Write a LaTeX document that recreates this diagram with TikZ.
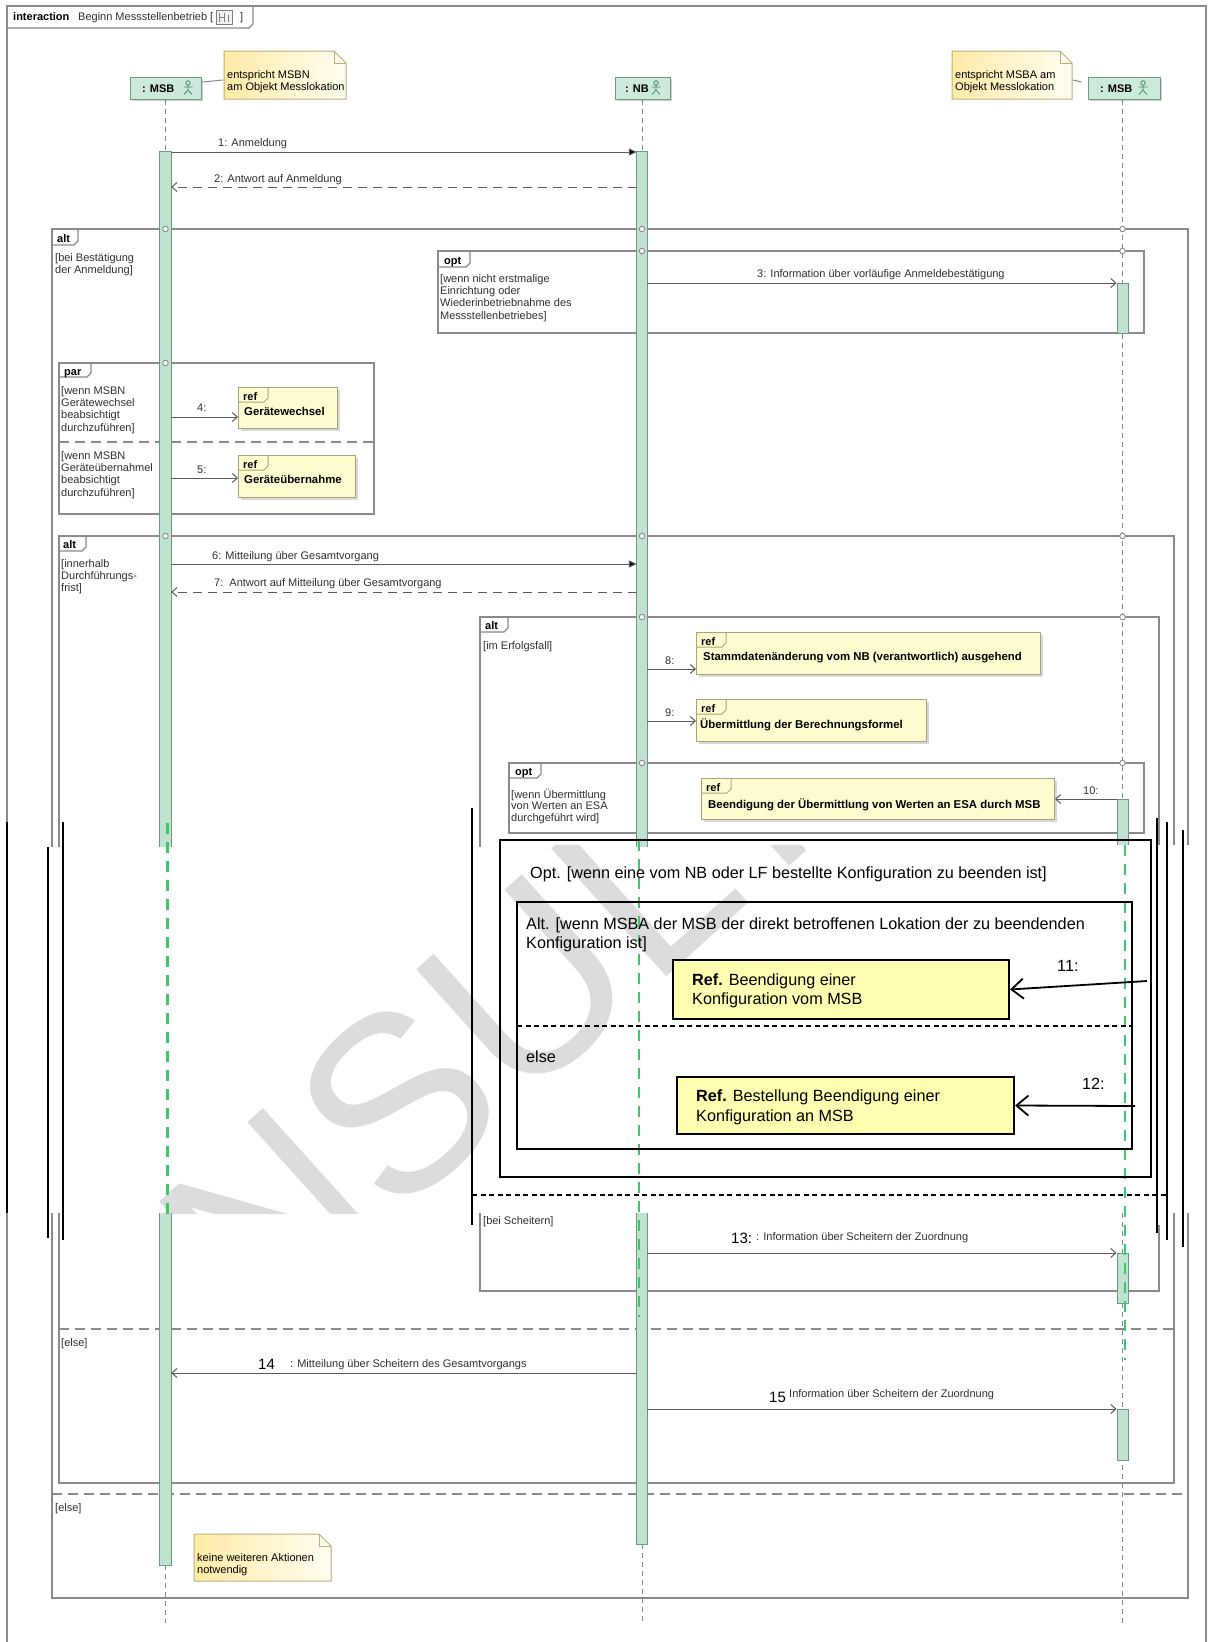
\documentclass[tikz,border=0pt]{standalone}
\usepackage{fontspec}
\setmainfont{Liberation Sans}
\usetikzlibrary{arrows.meta,shadows,calc}
\definecolor{framegray}{HTML}{8A8A8A}
\definecolor{lifefill}{HTML}{CDE9D9}
\definecolor{lifedraw}{HTML}{6C9C82}
\definecolor{actfill}{HTML}{BFE3CF}
\definecolor{actdraw}{HTML}{6A9880}
\definecolor{lifedashc}{HTML}{6F9482}
\definecolor{notefillA}{HTML}{FFEBA6}
\definecolor{notefillB}{HTML}{FFFDF2}
\definecolor{notedraw}{HTML}{BBAE7A}
\definecolor{reffill}{HTML}{FFFDCF}
\definecolor{refdraw}{HTML}{A8A37A}
\definecolor{ovfill}{HTML}{FFFDB0}
\definecolor{greendash}{HTML}{3CC86A}
\definecolor{wmgray}{HTML}{DCDCDC}
\definecolor{msggray}{HTML}{5A5A5A}
\definecolor{txtgray}{HTML}{303030}
\definecolor{actorgreen}{HTML}{3F8F63}
\newcommand\umlf{\fontsize{11}{12.3}\selectfont}
\newcommand\umlb{\fontsize{11.4}{13}\selectfont\bfseries}
\newcommand\ovf{\fontsize{16.2}{19.2}\selectfont}
\newcommand\utab[4]{\draw[frame] (#1,#2+#4) -- (#1+#3-4,#2+#4) -- (#1+#3,#2+#4-4) -- (#1+#3,#2);}
\newcommand\rtab[2]{\draw[draw=refdraw,line width=1pt] (#1,#2+15) -- (#1+26,#2+15) -- (#1+30,#2+11) -- (#1+30,#2);}
\newcommand\umlactor[2]{%
  \draw[actorgreen,line width=0.8pt] (#1,#2-5) circle (2.2pt)
    (#1,#2-2.8) -- (#1,#2+2) (#1-4.5,#2-1) -- (#1+4.5,#2-1)
    (#1-4,#2+6.5) -- (#1,#2+2) -- (#1+4,#2+6.5);}
\begin{document}
\begin{tikzpicture}[x=1pt,y=-1pt,
  frame/.style={draw=framegray,line width=1.1pt},
  sepline/.style={draw=framegray,line width=1.1pt,dash pattern=on 10pt off 6pt},
  lbl/.style={inner sep=0,anchor=base west,font=\umlf,text=txtgray},
  guard/.style={inner sep=0,anchor=north west,align=left,font=\umlf,text=txtgray},
  tablbl/.style={inner sep=0,anchor=base west,font=\umlf\bfseries,text=black},
  lifebox/.style={draw=lifedraw,fill=lifefill,line width=1pt,minimum width=71pt,minimum height=22pt,inner sep=0,drop shadow={shadow xshift=1.5pt,shadow yshift=-1.5pt,opacity=0.35}},
  act/.style={fill=actfill,draw=actdraw,line width=0.9pt,inner sep=0,minimum width=11pt,anchor=north},
  actcut/.style={fill=actfill,draw=none,inner sep=0,minimum width=11pt,anchor=north},
  actside/.style={draw=actdraw,line width=0.9pt},
  lifedash/.style={draw=lifedashc,line width=0.9pt,dash pattern=on 5pt off 4pt},
  gdash/.style={draw=greendash,line width=2.6pt,dash pattern=on 11pt off 8pt},
  msg/.style={draw=msggray,line width=1pt,-{Straight Barb[length=5pt,width=9pt]}},
  sync/.style={draw=msggray,line width=1pt,-{Triangle[length=8pt,width=7pt,fill=black]}},
  reply/.style={msg,dash pattern=on 9pt off 6pt},
  refbox/.style={draw=refdraw,fill=reffill,line width=1pt,inner sep=0,anchor=north west,drop shadow={shadow xshift=2pt,shadow yshift=-2pt,opacity=0.3}},
  reftxt/.style={inner sep=0,anchor=base west,font=\umlb},
  dot/.style={circle,draw=framegray,fill=white,line width=0.9pt,inner sep=0,minimum size=5.5pt},
  blk/.style={draw=black,line width=2.2pt},
  ovbox/.style={draw=black,line width=2pt},
  ovsep/.style={draw=black,line width=1.3pt,dash pattern=on 5pt off 3.5pt},
  ovref/.style={draw=black,fill=ovfill,line width=2pt,inner sep=0,anchor=north west},
  ovtxt/.style={inner sep=0,anchor=base west,font=\ovf,text=black},
  ovmsg/.style={draw=black,line width=1.8pt,-{Straight Barb[length=12pt,width=20pt,line width=1.8pt]}},
  notepath/.style={draw=notedraw,line width=1pt,left color=notefillA,right color=notefillB},
]
\useasboundingbox[fill=white] (0,0) rectangle (1208,1642);

% watermark inside the pasted band
\begin{scope}
\clip (0,845) rectangle (1208,1213);
\node[rotate=42,anchor=base west,inner sep=0,text=wmgray,font=\fontsize{250}{250}\selectfont] (wm) at (-9,1585) {KONSULTATIONSFASSUNG};
\end{scope}

% outer interaction frame
\draw[frame] (7,1650) -- (7,6) -- (1206,6) -- (1206,1650);
\draw[frame] (7,28) -- (249,28) -- (253,24) -- (253,6);
\node[tablbl] (hdr1) at (13,20) {interaction};
\node[lbl] (hdr2) at (78,20) {Beginn Messstellenbetrieb [};
\node[draw=gray,fill=gray!12,minimum width=16pt,minimum height=14pt,inner sep=0] (hicon) at (224,17.5) {};
\draw[gray,line width=0.8pt] (219,13) -- (219,22) (219,17.5) -- (224,17.5) (224,13) -- (224,22) (228,15) -- (228,22);
\node[lbl] (hdr3) at (240,20) {]};

% lifeline headers
\node[lifebox] (hA) at (165.5,88) {};
\node[inner sep=0,anchor=base west,font=\umlf\bfseries] (tA) at (142,92) {: MSB};
\umlactor{188}{88}
\node[lifebox,minimum width=55pt] (hN) at (642.5,88) {};
\node[inner sep=0,anchor=base west,font=\umlf\bfseries] (tN) at (625,92) {: NB};
\umlactor{656}{88}
\node[lifebox,minimum width=72pt] (hM) at (1124,88) {};
\node[inner sep=0,anchor=base west,font=\umlf\bfseries] (tM) at (1100,92) {: MSB};
\umlactor{1143}{88}

% notes
\path[notepath] (224,51) -- (334,51) -- (346,63) -- (346,99) -- (224,99) -- cycle;
\draw[notedraw,line width=1pt] (334,51) -- (334,63) -- (346,63);
\node[guard,text=black] (n1) at (227,70.5) {entspricht MSBN\\am Objekt Messlokation};
\coordinate (n1c) at (223,80);
\draw[framegray,line width=1pt] (hA.east) ++(1,-6) -- (n1c);
\path[notepath] (952,51) -- (1060,51) -- (1072,63) -- (1072,99) -- (952,99) -- cycle;
\draw[notedraw,line width=1pt] (1060,51) -- (1060,63) -- (1072,63);
\node[guard,text=black] (n2) at (955,70.5) {entspricht MSBA am\\Objekt Messlokation};
\coordinate (n2c) at (1073,80);
\draw[framegray,line width=1pt] (n2c) -- ($(hM.west)+(-6,-6)$);
\path[notepath] (194,1534) -- (319,1534) -- (331,1546) -- (331,1581) -- (194,1581) -- cycle;
\draw[notedraw,line width=1pt] (319,1534) -- (319,1546) -- (331,1546);
\node[guard,text=black] (n3) at (197,1553.5) {keine weiteren Aktionen\\notwendig};

% ---------- UML frames ----------
% big alt
\draw[frame] (52,847) -- (52,229) -- (1188,229) -- (1188,845);
\draw[frame] (52,1213) -- (52,1598) -- (1188,1598) -- (1188,1213);
\utab{52}{229}{26}{16}
\node[tablbl] (tAlt1) at (57,242.5) {alt};
\node[guard] (gAlt1) at (55,253) {[bei Bestätigung\\der Anmeldung]};
\draw[sepline] (52,1494) -- (1188,1494);
\node[lbl] (gElse2) at (55,1511) {[else]};
% opt 1
\draw[frame] (438,251) rectangle (1144,333);
\utab{438}{251}{32}{16}
\node[tablbl] (tOpt1) at (444,264.5) {opt};
\node[guard] (gOpt1) at (440,274) {[wenn nicht erstmalige\\Einrichtung oder\\Wiederinbetriebnahme des\\Messstellenbetriebes]};
% par
\draw[frame] (59,363) rectangle (374,514);
\utab{59}{363}{32}{14}
\node[tablbl] (tPar) at (64,375.5) {par};
\node[guard] (gPar1) at (61,386) {[wenn MSBN\\Gerätewechsel\\beabsichtigt\\durchzuführen]};
\draw[sepline] (59,442) -- (374,442);
\node[guard] (gPar2) at (61,451) {[wenn MSBN\\Geräteübernahmel\\beabsichtigt\\durchzuführen]};
% alt innerhalb
\draw[frame] (59,847) -- (59,536) -- (1174,536) -- (1174,845);
\draw[frame] (59,1213) -- (59,1483) -- (1174,1483) -- (1174,1213);
\utab{59}{536}{27}{15}
\node[tablbl] (tAlt2) at (63,548.5) {alt};
\node[guard] (gAlt2) at (61,559) {[innerhalb\\Durchführungs-\\frist]};
\draw[sepline] (59,1329) -- (1174,1329);
\node[lbl] (gElse1) at (61,1346) {[else]};
% alt im Erfolgsfall
\draw[frame] (480,847) -- (480,617) -- (1159,617) -- (1159,845);
\draw[frame] (480,1213) -- (480,1291) -- (1159,1291) -- (1159,1225);
\utab{480}{617}{28}{15}
\node[tablbl] (tAlt3) at (485,629.5) {alt};
\node[lbl] (gAlt3) at (483,649) {[im Erfolgsfall]};
\node[lbl] (gScheit) at (483,1224) {[bei Scheitern]};
% opt 2
\draw[frame] (509,763) rectangle (1144,833);
\utab{509}{763}{32}{15}
\node[tablbl] (tOpt2) at (515,775.5) {opt};
\node[guard,font=\fontsize{11}{11.3}\selectfont] (gOpt2) at (511,789) {[wenn Übermittlung\\von Werten an ESA\\durchgeführt wird]};

% ---------- lifelines ----------
\draw[lifedash] (hA.south) -- ++(0,52);
\draw[lifedash] (165.5,1565) -- (165.5,1623);
\draw[lifedash] (hN.south) -- ++(0,52);
\draw[lifedash] (642,1544) -- (642,1623);
\draw[lifedash] (hM.south -| 1122.5,0) -- (1122.5,845);
\draw[lifedash] (1122.5,1213) -- (1122.5,1623);

% activations
\node[actcut,minimum height=696pt] (aA1) at (165.5,151) {};
\draw[actside] (aA1.south west) -- (aA1.north west) -- (aA1.north east) -- (aA1.south east);
\node[actcut,minimum height=352pt] (aA2) at (165.5,1213) {};
\draw[actside] (aA2.north west) -- (aA2.south west) -- (aA2.south east) -- (aA2.north east);
\node[actcut,minimum height=696pt,minimum width=10pt] (aN1) at (642,151) {};
\draw[actside] (aN1.south west) -- (aN1.north west) -- (aN1.north east) -- (aN1.south east);
\node[actcut,minimum height=331pt,minimum width=10pt] (aN2) at (642,1213) {};
\draw[actside] (aN2.north west) -- (aN2.south west) -- (aN2.south east) -- (aN2.north east);
\node[act,minimum height=50pt] (aM1) at (1122.5,283) {};
\node[actcut,minimum height=46pt] (aM2) at (1123,799) {};
\draw[actside] (aM2.south west) -- (aM2.north west) -- (aM2.north east) -- (aM2.south east);
\node[act,minimum height=50pt] (aM3) at (1122.5,1253) {};
\node[act,minimum height=51pt] (aM4) at (1122.5,1409) {};

% combined-fragment dots on lifelines
\foreach \nm/\px/\py in {d1/165.5/229,d2/642/229,d3/1122.5/229,d4/642/251,d5/1122.5/251,d6/165.5/363,d7/165.5/536,d8/642/536,d9/1122.5/536,d10/642/617,d11/1122.5/617,d12/642/763,d13/1122.5/763}
  \node[dot] (\nm) at (\px,\py) {};

% ---------- UML refs ----------
\node[refbox,minimum width=99pt,minimum height=41pt] (rG) at (238,387) {};
\rtab{238}{387}
\node[tablbl] (rGt) at (243,400) {ref};
\node[reftxt] (rGx) at (244,415) {Gerätewechsel};
\node[refbox,minimum width=117pt,minimum height=42pt] (rU) at (238,455) {};
\rtab{238}{455}
\node[tablbl] (rUt) at (243,468) {ref};
\node[reftxt] (rUx) at (244,483) {Geräteübernahme};
\node[refbox,minimum width=344pt,minimum height=42pt] (rS) at (696,632) {};
\rtab{696}{632}
\node[tablbl] (rSt) at (701,645) {ref};
\node[reftxt] (rSx) at (703,660) {Stammdatenänderung vom NB (verantwortlich) ausgehend};
\node[refbox,minimum width=230pt,minimum height=42pt] (rB) at (696,699) {};
\rtab{696}{699}
\node[tablbl] (rBt) at (701,712) {ref};
\node[reftxt] (rBx) at (700,728) {Übermittlung der Berechnungsformel};
\node[refbox,minimum width=353pt,minimum height=41pt] (rE) at (701,778) {};
\rtab{701}{778}
\node[tablbl] (rEt) at (706,791) {ref};
\node[reftxt] (rEx) at (708,808) {Beendigung der Übermittlung von Werten an ESA durch MSB};

% ---------- messages ----------
\foreach \nm/\py in {y1/152,y2/187,y3/283,y4/417,y5/478,y6/564,y7/592,y8/669,y9/721,y10/799,y13/1253,y14/1373,y15/1409}
  \coordinate (\nm) at (0,\py);
\draw[sync] (aA1.east |- y1) -- (aN1.west |- y1);
\node[lbl] (l1) at (218,146) {1: Anmeldung};
\draw[reply] (aN1.west |- y2) -- (aA1.east |- y2);
\node[lbl] (l2) at (214,182) {2: Antwort auf Anmeldung};
\draw[msg] (aN1.east |- y3) -- (aM1.west |- y3);
\node[lbl] (l3) at (757,277) {3: Information über vorläufige Anmeldebestätigung};
\draw[msg] (aA1.east |- y4) -- (rG.west |- y4);
\node[lbl] (l4) at (197,411) {4:};
\draw[msg] (aA1.east |- y5) -- (rU.west |- y5);
\node[lbl] (l5) at (197,473) {5:};
\draw[sync] (aA1.east |- y6) -- (aN1.west |- y6);
\node[lbl] (l6) at (212,559) {6: Mitteilung über Gesamtvorgang};
\draw[reply] (aN1.west |- y7) -- (aA1.east |- y7);
\node[lbl] (l7) at (214,586) {7:\ \ Antwort auf Mitteilung über Gesamtvorgang};
\draw[msg] (aN1.east |- y8) -- (rS.west |- y8);
\node[lbl] (l8) at (665,664) {8:};
\draw[msg] (aN1.east |- y9) -- (rB.west |- y9);
\node[lbl] (l9) at (665,716) {9:};
\draw[msg] (aM2.west |- y10) -- (rE.east |- y10);
\node[lbl] (l10) at (1083,794) {10:};
\draw[msg] (aN2.east |- y13) -- (aM3.west |- y13);
\node[inner sep=0,anchor=base west,font=\fontsize{15}{15}\selectfont] (l13) at (731,1243) {13:};
\node[lbl] (l13b) at (756,1240) {: Information über Scheitern der Zuordnung};
\draw[msg] (aN2.west |- y14) -- (aA2.east |- y14);
\node[inner sep=0,anchor=base west,font=\fontsize{15}{15}\selectfont] (l14) at (258,1369) {14};
\node[lbl] (l14b) at (290,1367) {: Mitteilung über Scheitern des Gesamtvorgangs};
\draw[msg] (aN2.east |- y15) -- (aM4.west |- y15);
\node[inner sep=0,anchor=base west,font=\fontsize{15}{15}\selectfont] (l15) at (769,1402) {15};
\node[lbl] (l15b) at (789,1397) {Information über Scheitern der Zuordnung};

% ---------- pasted band ----------
\draw[gdash] (167.5,823) -- (167.5,1216);
\draw[gdash] (639,840) -- (639,1317);
\draw[gdash] (1125,845) -- (1125,1360);
\draw[blk] (7,822) -- (7,1213);
\draw[blk] (48,847) -- (48,1238);
\draw[blk] (63,822) -- (63,1240);
\draw[blk] (472,808) -- (472,1225);
\draw[blk] (1157,818) -- (1157,1233);
\draw[blk] (1167,822) -- (1167,1240);
\draw[blk] (1183,830) -- (1183,1247);
\draw[ovbox] (500,840) rectangle (1151,1177);
\node[ovtxt] (oOpt) at (530,878) {Opt. [wenn eine vom NB oder LF bestellte Konfiguration zu beenden ist]};
\draw[ovbox] (517,902) rectangle (1132,1149);
\node[ovtxt] (oAlt1) at (526,929) {Alt. [wenn MSBA der MSB der direkt betroffenen Lokation der zu beendenden};
\node[ovtxt] (oAlt2) at (526,948) {Konfiguration ist]};
\draw[ovsep] (517,1026) -- (1132,1026);
\node[ovtxt] (oElse) at (526,1062) {else};
\draw[ovsep] (472,1195) -- (1168,1195);
\node[ovref,minimum width=336pt,minimum height=59pt] (o11) at (672,959) {};
\node[ovtxt] (o11a) at (692,985) {\textbf{Ref.} Beendigung einer};
\node[ovtxt] (o11b) at (692,1004) {Konfiguration vom MSB};
\node[ovref,minimum width=337pt,minimum height=57pt] (o12) at (676,1076) {};
\node[ovtxt] (o12a) at (696,1101) {\textbf{Ref.} Bestellung Beendigung einer};
\node[ovtxt] (o12b) at (696,1121) {Konfiguration an MSB};
\coordinate (s11) at (1147,981);
\coordinate (s12) at (1135,1106);
\draw[ovmsg] (s11) -- (o11.east);
\draw[ovmsg] (s12) -- (o12.east);
\node[ovtxt] (l11) at (1057,971) {11:};
\node[ovtxt] (l12) at (1082,1089) {12:};
\end{tikzpicture}
\end{document}
